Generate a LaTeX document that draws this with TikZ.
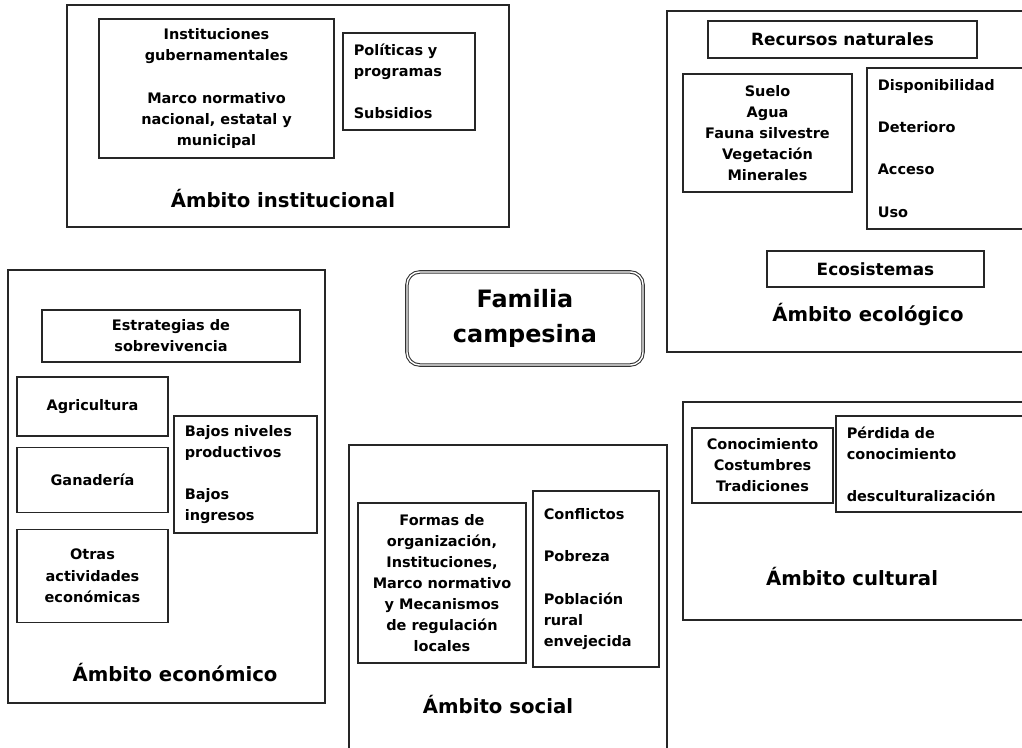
\documentclass[tikz,border=0pt]{standalone}
\usepackage{fontspec}
\setmainfont{DejaVu Sans}
\usetikzlibrary{positioning}

\begin{document}
\begin{tikzpicture}[x=0.025cm, y=-0.025cm,
				marco/.style={rectangle, draw=black!85, line width=0.8pt, inner sep=0pt},
				caja/.style={rectangle, draw=black!85, line width=0.8pt, inner sep=0pt, align=center, font=\bfseries\fontsize{10.3}{15}\selectfont},
				lista/.style={caja, align=left, inner xsep=0.27cm},
				grande/.style={font=\bfseries\fontsize{12}{15}\selectfont},
				ambito/.style={font=\bfseries\fontsize{14}{17}\selectfont},
				familia/.style={rectangle, rounded corners=9pt, draw=black!80, double, double distance=1pt, line width=0.75pt, align=center, font=\bfseries\fontsize{17}{25}\selectfont}
			]
			\useasboundingbox (0,0) rectangle (1022,748);
			\clip (0,0) rectangle (1022,748);
			% ambito institucional
			\node[marco, minimum width=11.05cm, minimum height=5.55cm] (institucional) at (288,116) {};
			\node[caja, minimum width=5.875cm, minimum height=3.475cm] (gobierno) at (216.5,88.5) {Instituciones\\gubernamentales\\[15pt]Marco normativo\\nacional, estatal y\\municipal};
			\node[lista, text width=2.76cm, minimum height=2.425cm] (politicas) at (409,81.5) {Políticas y\\programas\\[15pt]Subsidios};
			\node[ambito] (l-inst) at (283,199) {Ámbito institucional};
			% ambito ecologico
			\node[marco, minimum width=9.125cm, minimum height=8.525cm] (ecologico) at (849.5,181.5) {};
			\node[caja, grande, minimum width=6.725cm, minimum height=0.925cm] (recursos) at (842.5,39.5) {Recursos naturales};
			\node[caja, minimum width=4.225cm, minimum height=2.95cm] (elementos) at (767.5,133) {Suelo\\Agua\\Fauna silvestre\\Vegetación\\Minerales};
			\node[lista, text width=3.585cm, minimum height=4.025cm] (estado) at (949.5,148.5) {Disponibilidad\\[15pt]Deterioro\\[15pt]Acceso\\[15pt]Uso};
			\node[caja, grande, minimum width=5.425cm, minimum height=0.9cm] (ecosistemas) at (875.5,269) {Ecosistemas};
			\node[ambito] (l-eco) at (868,314) {Ámbito ecológico};
			% ambito economico
			\node[marco, minimum width=7.925cm, minimum height=10.825cm] (economico) at (166.5,486.5) {};
			\node[caja, minimum width=6.45cm, minimum height=1.3cm] (estrategias) at (171,336) {Estrategias de\\sobrevivencia};
			\node[caja, minimum width=3.775cm, minimum height=1.475cm] (agricultura) at (92.5,406.5) {Agricultura};
			\node[caja, minimum width=3.775cm, minimum height=1.625cm] (ganaderia) [below=0.25cm of agricultura] {Ganadería};
			\node[caja, minimum width=3.775cm, minimum height=2.325cm] (otras) [below=0.4cm of ganaderia] {Otras\\actividades\\económicas};
			\node[lista, text width=3.035cm, minimum height=2.925cm] (bajos) at (245.5,474.5) {Bajos niveles\\productivos\\[15pt]Bajos\\ingresos};
			\node[ambito] (l-econ) at (175,673) {Ámbito económico};
			% ambito social
			\node[marco, minimum width=7.95cm, minimum height=7.875cm] (social) at (508,602.5) {};
			\node[caja, minimum width=4.2cm, minimum height=4cm] (formas) at (442,583) {Formas de\\organización,\\Instituciones,\\Marco normativo\\y Mecanismos\\de regulación\\locales};
			\node[lista, text width=2.61cm, minimum height=4.4cm] (conflictos) at (596,579) {Conflictos\\[15pt]Pobreza\\[15pt]Población\\rural\\envejecida};
			\node[ambito] (l-soc) at (498,705) {Ámbito social};
			% ambito cultural
			\node[marco, minimum width=8.725cm, minimum height=5.45cm] (cultural) at (857.5,511) {};
			\node[caja, minimum width=3.525cm, minimum height=1.875cm] (saberes) at (762.5,465.5) {Conocimiento\\Costumbres\\Tradiciones};
			\node[lista, text width=4.36cm, minimum height=2.4cm] (perdida) at (934,464) {Pérdida de\\conocimiento\\[15pt]desculturalización};
			\node[ambito] (l-cult) at (852,577) {Ámbito cultural};
			% centro
			\node[familia, minimum width=5.9cm, minimum height=2.325cm] (familia) at (525,318.5) {Familia\\campesina};
			\end{tikzpicture}
\end{document}
